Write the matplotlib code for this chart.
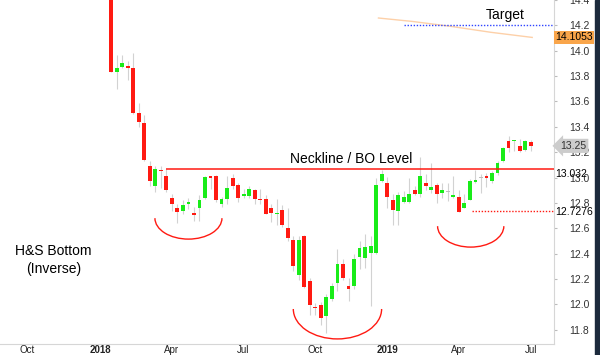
import matplotlib
matplotlib.use("Agg")
import matplotlib.pyplot as plt
import matplotlib.dates as mdates
import matplotlib.transforms as mtransforms
from matplotlib.patches import Arc, Rectangle
import numpy as np
import pandas as pd

plt.rcParams['font.family'] = ['Liberation Sans', 'DejaVu Sans']

# weekly candles, first week starting 2018-01-15
first_week = '2018-01-15'
opens = [14.60, 13.83, 13.87, 13.88, 13.86, 13.51, 13.43, 13.09, 12.935, 13.06,
         13.01, 12.84, 12.76, 12.74, 12.795, 12.72, 12.76, 12.84, 13.004, 13.01,
         12.795, 12.835, 12.996, 12.943, 12.853, 12.853, 12.90, 12.832, 12.832, 12.76,
         12.714, 12.743, 12.606, 12.51, 12.23, 12.54, 12.184, 11.98, 11.992, 11.907,
         12.04, 12.171, 12.321, 12.147, 12.145, 12.374, 12.369, 12.408, 12.408, 12.975,
         12.961, 12.822, 12.738, 12.811, 12.811, 12.901, 12.869, 12.961, 12.901, 12.943,
         12.882, 12.888, 12.85, 12.848, 12.764, 12.825, 12.969, 12.996, 13.014, 12.975,
         13.04, 13.133, 13.285, 13.285, 13.246, 13.217, 13.283]
highs = [14.60, 13.97, 13.97, 13.92, 13.98, 13.59, 13.49, 13.13, 13.09, 13.09,
         13.07, 12.87, 12.79, 12.82, 12.84, 12.77, 12.86, 13.015, 13.015, 13.02,
         12.85, 13.01, 13.03, 12.96, 12.91, 12.935, 12.91, 12.91, 12.86, 12.79,
         12.83, 12.785, 12.76, 12.54, 12.54, 12.545, 12.21, 12.01, 12.02, 12.08,
         12.17, 12.435, 12.356, 12.21, 12.395, 12.50, 12.553, 12.54, 13.00, 13.06,
         13.006, 12.87, 12.89, 12.896, 13.00, 12.935, 13.159, 13.027, 13.112, 12.96,
         12.96, 12.96, 13.014, 12.901, 12.869, 12.988, 13.06, 13.027, 13.033, 13.054,
         13.133, 13.24, 13.33, 13.30, 13.304, 13.297, 13.297]
lows = [13.83, 13.70, 13.86, 13.77, 13.50, 13.40, 13.13, 12.93, 12.89, 12.92,
        12.89, 12.74, 12.64, 12.71, 12.75, 12.66, 12.66, 12.83, 12.91, 12.81,
        12.77, 12.795, 12.91, 12.81, 12.84, 12.838, 12.795, 12.79, 12.71, 12.65,
        12.63, 12.61, 12.50, 12.26, 12.19, 12.13, 11.92, 11.915, 11.836, 11.776,
        12.03, 12.105, 12.19, 12.026, 12.12, 12.277, 12.289, 11.99, 12.40, 12.965,
        12.759, 12.627, 12.627, 12.80, 12.80, 12.86, 12.85, 12.90, 12.88, 12.803,
        12.838, 12.817, 12.84, 12.7276, 12.76, 12.82, 12.96, 12.882, 12.927, 12.96,
        13.022, 13.125, 13.2, 13.206, 13.2, 13.21, 13.206]
closes = [13.83, 13.86, 13.90, 13.86, 13.51, 13.435, 13.14, 12.97, 13.065, 13.05,
          12.90, 12.79, 12.73, 12.785, 12.806, 12.705, 12.82, 13.006, 13.0, 12.82,
          12.835, 12.92, 12.935, 12.838, 12.872, 12.911, 12.835, 12.822, 12.716, 12.72,
          12.724, 12.624, 12.52, 12.30, 12.51, 12.14, 11.994, 11.973, 11.894, 12.058,
          12.142, 12.321, 12.21, 12.123, 12.356, 12.443, 12.453, 12.458, 12.943, 13.028,
          12.848, 12.743, 12.862, 12.843, 12.869, 12.874, 13.014, 12.935, 12.922, 12.874,
          12.901, 12.888, 12.864, 12.7276, 12.803, 12.975, 12.98, 12.996, 12.996, 13.033,
          13.115, 13.233, 13.233, 13.293, 13.206, 13.291, 13.251]

# orange average line (top right)
avg_dates = ['2018-12-20', '2019-02-01', '2019-03-22', '2019-05-12', '2019-07-03']
avg_values = [14.258, 14.231, 14.192, 14.145, 14.105]

neckline = 13.07
support = 12.74
target = 14.205
y_ticks = [11.8, 12.0, 12.2, 12.4, 12.6, 12.8, 13.0, 13.2, 13.4, 13.6, 13.8, 14.0, 14.2, 14.4]

dates = pd.date_range(first_week, periods=len(opens), freq='7D')
x = mdates.date2num(dates.to_pydatetime())
o = np.array(opens); c = np.array(closes)
h = np.array(highs); l = np.array(lows)

fig = plt.figure(figsize=(6, 3.55), dpi=100)
ax = fig.add_axes([0, 11 / 355, 553.5 / 600, 344 / 355])

red = '#ff1a12'
green = '#19ec19'
ax.vlines(x, l, h, color='#d2d2d2', lw=0.8, zorder=1)
body_lo = np.minimum(o, c)
body_h = np.maximum(np.abs(c - o), 0.009)
cols = [green if cc > oo else (red if cc < oo else '#bdbdbd') for oo, cc in zip(o, c)]
ax.bar(x, body_h, bottom=body_lo, width=4.9, color=cols, linewidth=0, zorder=2)

# levels
ax.hlines(neckline, mdates.datestr2num('2018-03-25'), x[-1] + 40, color=red, lw=1.1, zorder=3)
ax.hlines(support, mdates.datestr2num('2019-04-17'), x[-1] + 40, color=red, lw=1.0,
          linestyles=(0, (1, 1.2)), zorder=3)
ax.hlines(target, mdates.datestr2num('2019-01-21'), x[-1] + 40, color='#3045ff', lw=1.0,
          linestyles=(0, (1, 1.2)), zorder=3)
ax.plot(mdates.datestr2num(avg_dates), avg_values, color='#fdd0a8', lw=1.0, zorder=2)

# pattern arcs
for cx, w_days, cy, depth in [('2018-04-23', 85, 12.680, 0.165),
                               ('2018-10-29', 112, 11.964, 0.236),
                               ('2019-04-16', 84, 12.617, 0.165)]:
    ax.add_patch(Arc((mdates.datestr2num(cx), cy), w_days, 2 * depth,
                     theta1=180, theta2=360, color=red, lw=1.0))

ax.text(mdates.datestr2num('2018-11-15'), 13.09, 'Neckline / BO Level', fontsize=10,
        ha='center', va='bottom')
ax.text(mdates.datestr2num('2019-05-30'), 14.28, 'Target', fontsize=10,
        ha='center', va='center')
ax.text(mdates.datestr2num('2017-11-03'), 12.35, 'H&S Bottom\n(Inverse)', fontsize=10,
        ha='center', va='center', linespacing=1.4)

ax.set_xlim(mdates.datestr2num('2017-08-27'), mdates.datestr2num('2019-07-30'))
ax.set_ylim(11.688, 14.397)

months = ['2017-10-01', '2018-01-01', '2018-04-01', '2018-07-01', '2018-10-01',
          '2019-01-01', '2019-04-01', '2019-07-01']
month_labels = ['Oct', '2018', 'Apr', 'Jul', 'Oct', '2019', 'Apr', 'Jul']
ax.set_xticks(mdates.datestr2num(months))
ax.set_xticklabels(month_labels, fontsize=7, color='#222222')
for t in ax.get_xticklabels():
    if t.get_text() in ('2018', '2019'):
        t.set_fontweight('bold')
ax.tick_params(axis='x', length=0, pad=0.5)

ax.yaxis.tick_right()
ax.set_yticks(y_ticks)
ax.set_yticklabels(['%.1f' % v for v in y_ticks], fontsize=7.5, color='#333333')
ax.tick_params(axis='y', length=2.5, color='#bbbbbb', pad=9)

for s in ['top', 'left']:
    ax.spines[s].set_visible(False)
ax.spines['right'].set_color('#d6d6d6')
ax.spines['bottom'].set_color('#d6d6d6')

# price labels on right axis
trans = mtransforms.blended_transform_factory(ax.transAxes, ax.transData)
ax.text(1.003, 14.1053, '14.1053', transform=trans, fontsize=7.5, va='center', ha='left',
        bbox=dict(boxstyle='square,pad=0.15', fc='#f9a54a', ec='none'), clip_on=False)
ax.text(1.012, 13.25, '13.25', transform=trans, fontsize=7.5, va='center', ha='left',
        color='#333333',
        bbox=dict(boxstyle='larrow,pad=0.2', fc='#cccccc', ec='none'), clip_on=False)
ax.text(1.003, 13.032, '13.032', transform=trans, fontsize=7.5, va='center', ha='left',
        clip_on=False)
ax.text(1.003, 12.7276, '12.7276', transform=trans, fontsize=7.5, va='center', ha='left',
        clip_on=False)

fig.patches.append(Rectangle((595 / 600, 0), 5 / 600, 1, transform=fig.transFigure,
                             color='#1c2a3c', zorder=5))

plt.savefig('out.png', dpi=100)
